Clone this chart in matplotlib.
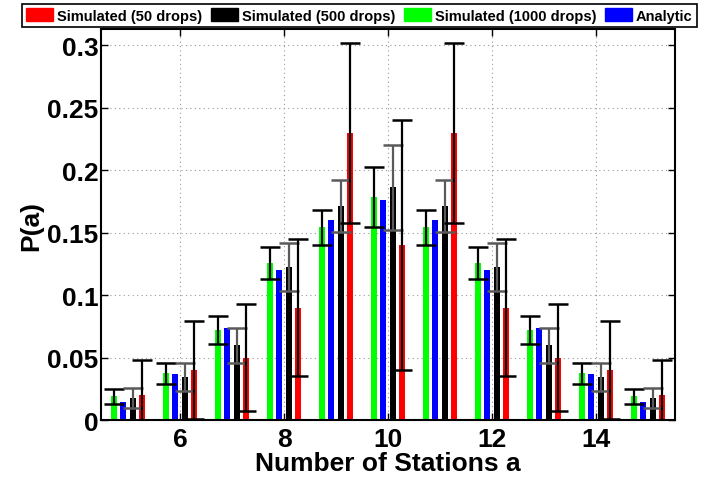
import matplotlib
matplotlib.use("Agg")
import matplotlib.pyplot as plt
from matplotlib.patches import Patch
import numpy as np

plt.rcParams['font.family'] = ['Liberation Sans', 'DejaVu Sans']
plt.rcParams['font.weight'] = 'bold'

# number of stations a
stations = [5, 6, 7, 8, 9, 10, 11, 12, 13, 14, 15]

# values
sim_1000 = [0.0192, 0.0376, 0.0720, 0.1256, 0.1544, 0.1784, 0.1544, 0.1256, 0.0720, 0.0376, 0.0192]
err_1000 = [0.0060, 0.0084, 0.0110, 0.0130, 0.0140, 0.0240, 0.0140, 0.0130, 0.0110, 0.0084, 0.0060]
analytic = [0.0148, 0.0370, 0.0739, 0.1201, 0.1602, 0.1762, 0.1602, 0.1201, 0.0739, 0.0370, 0.0148]
sim_500 = [0.0176, 0.0344, 0.0600, 0.1224, 0.1712, 0.1864, 0.1712, 0.1224, 0.0600, 0.0344, 0.0176]
err_500 = [0.0080, 0.0110, 0.0140, 0.0190, 0.0210, 0.0340, 0.0210, 0.0190, 0.0140, 0.0110, 0.0080]
sim_50 = [0.020, 0.040, 0.050, 0.090, 0.230, 0.140, 0.230, 0.090, 0.050, 0.040, 0.020]
err_50 = [0.028, 0.039, 0.043, 0.055, 0.072, 0.100, 0.072, 0.055, 0.043, 0.039, 0.028]

x = np.array(stations, dtype=float)
step = 0.182     # spacing between bars inside a group
width = 0.12

fig = plt.figure(figsize=(7.07, 4.81), dpi=100)
ax = fig.add_axes([0.1429, 0.1247, 0.8118, 0.8129])

ax.bar(x - 1.5 * step, sim_1000, width, color=(0, 1, 0), zorder=2)
ax.bar(x - 0.5 * step, analytic, width, color=(0, 0, 1), zorder=2)
ax.bar(x + 0.5 * step, sim_500, width, color='black', zorder=2)
ax.bar(x + 1.5 * step, sim_50, width, color=(1, 0, 0), zorder=2)

# error bars: 1000 drops (black), 500 drops (gray), 50 drops (black)
ax.errorbar(x - 1.5 * step, sim_1000, yerr=err_1000, fmt='none', ecolor='black',
            elinewidth=1.6, capsize=7.2, capthick=1.8, zorder=3)
ax.errorbar(x + 0.5 * step, sim_500, yerr=err_500, fmt='none', ecolor='#5a5a5a',
            elinewidth=1.6, capsize=7.2, capthick=1.8, zorder=3)
ax.errorbar(x + 1.5 * step, sim_50, yerr=err_50, fmt='none', ecolor='black',
            elinewidth=1.6, capsize=7.2, capthick=1.8, zorder=4)

ax.set_xlim(4.48, 15.52)
ax.set_ylim(0, 0.3128)
ax.set_xticks([6, 8, 10, 12, 14])
ax.set_yticks([0, 0.05, 0.1, 0.15, 0.2, 0.25, 0.3])
ax.set_yticklabels(['0', '0.05', '0.1', '0.15', '0.2', '0.25', '0.3'])
ax.tick_params(direction='in', length=5, width=1, top=True, right=True,
               labelsize=19)
ax.tick_params(axis='x', pad=5)
ax.tick_params(axis='y', pad=2)
for s in ax.spines.values():
    s.set_linewidth(1.5)

ax.set_axisbelow(True)
ax.grid(True, linestyle=(0, (1, 3)), color='#999999', linewidth=0.8)

ax.set_xlabel('Number of Stations a', fontsize=19, fontweight='bold', labelpad=0)
ax.set_ylabel('P(a)', fontsize=19, fontweight='bold', labelpad=3)

handles = [Patch(color=(1, 0, 0)), Patch(color='black'),
           Patch(color=(0, 1, 0)), Patch(color=(0, 0, 1))]
labels = ['Simulated (50 drops)', 'Simulated (500 drops)',
          'Simulated (1000 drops)', 'Analytic']
leg = fig.legend(handles, labels, loc='center', bbox_to_anchor=(0.508, 0.966),
                 ncol=4, prop={'weight': 'bold', 'size': 10.5},
                 frameon=True, fancybox=False, framealpha=1, edgecolor='black',
                 handlelength=1.85, handleheight=1.03, handletextpad=0.27,
                 columnspacing=0.6, borderpad=0.3)
leg.get_frame().set_linewidth(1.2)

fig.savefig('out.png', dpi=100)
